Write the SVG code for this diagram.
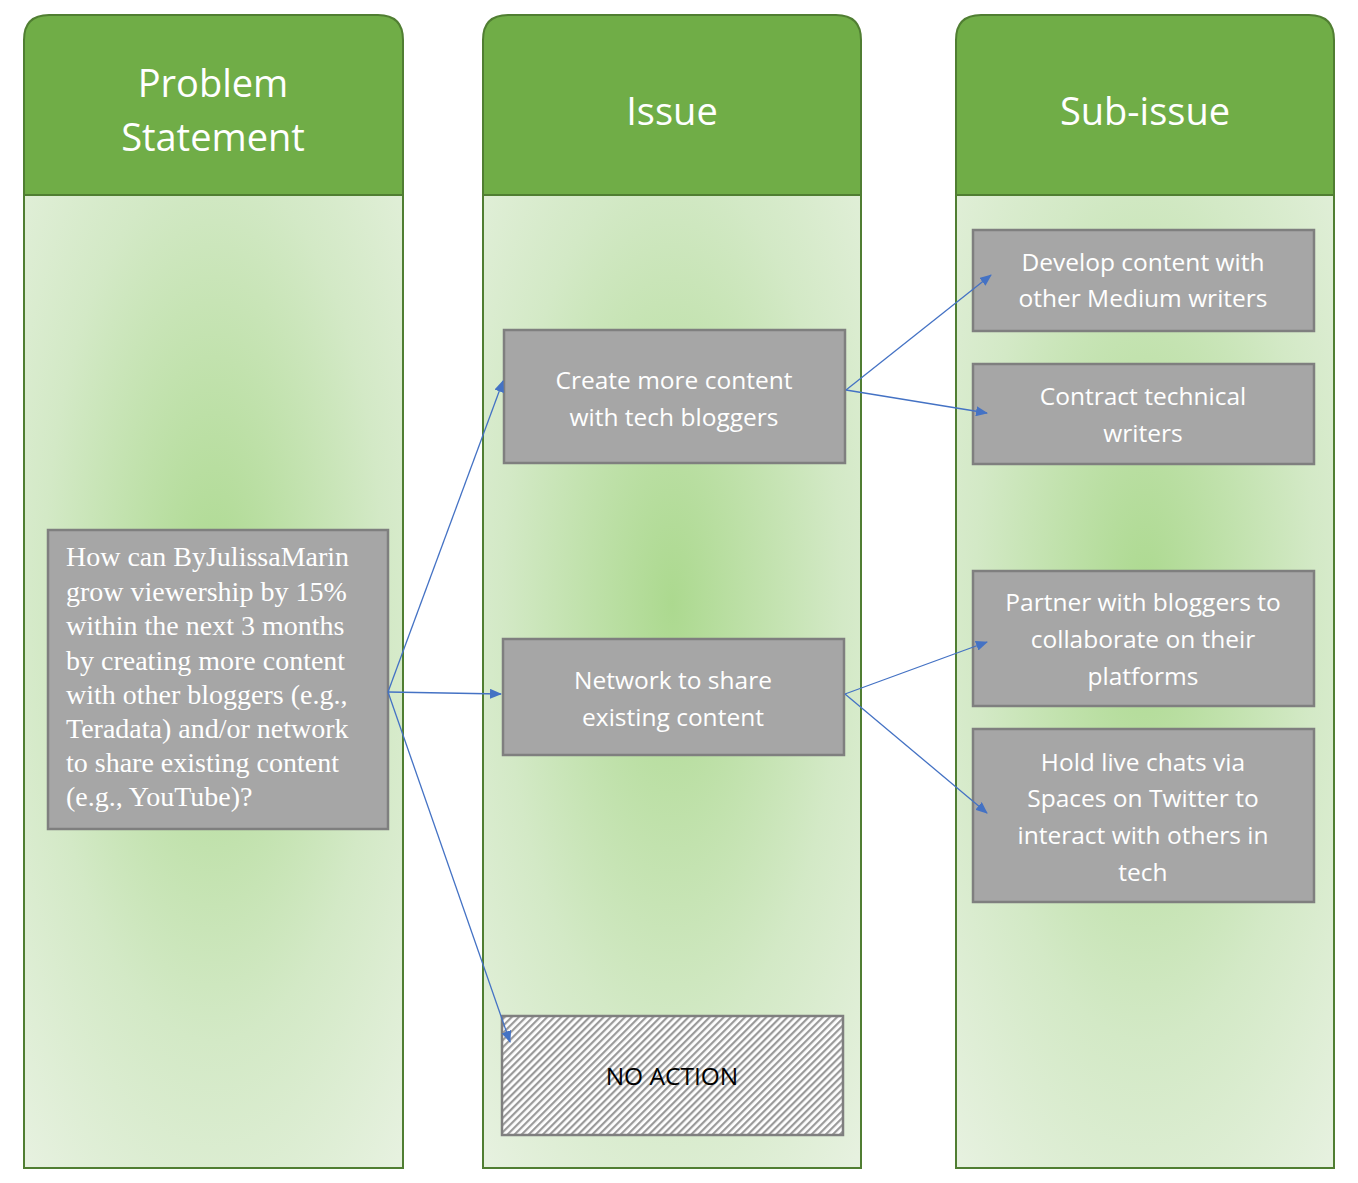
<svg xmlns="http://www.w3.org/2000/svg" width="1358" height="1183" viewBox="0 0 1358 1183">
<style>
.hd{fill:#70ad47;stroke:#507e32;stroke-width:2}
.bd{fill:url(#rg);stroke:#507e32;stroke-width:2}
.ht{font-family:'Open Sans','Noto Sans',sans-serif;font-size:38px;fill:#fff;text-anchor:middle}
.bx{fill:#a6a6a6;stroke:#7f7f7f;stroke-width:2.5}
.bt{font-family:'Open Sans','Noto Sans',sans-serif;font-size:24.5px;fill:#fff;text-anchor:middle}
.st{font-family:'Liberation Serif',serif;font-size:28px;fill:#fff}
.cn{stroke:#4472c4;stroke-width:1.3;fill:none;marker-end:url(#ar)}
</style>
<defs>
<radialGradient id="rg" cx="0.5" cy="0.42" r="0.75">
<stop offset="0" stop-color="#acd98f"/>
<stop offset="0.6" stop-color="#d3e9c6"/>
<stop offset="1" stop-color="#e6f1df"/>
</radialGradient>
<pattern id="hatch" width="5" height="5" patternUnits="userSpaceOnUse" patternTransform="rotate(45)">
<rect width="5" height="5" fill="#fff"/>
<rect width="2.2" height="5" fill="#9a9a9a"/>
</pattern>
<marker id="ar" markerWidth="12" markerHeight="10" refX="11" refY="5" orient="auto" markerUnits="userSpaceOnUse">
<path d="M0,0 L12,5 L0,10 Z" fill="#4472c4"/>
</marker>
</defs>
<rect width="1358" height="1183" fill="#fff"/>
<g id="col-problem">
<rect class="bd" x="24" y="195" width="379" height="973"/>
<path class="hd" d="M24,195 V40 Q24,15 49,15 H378 Q403,15 403,40 V195 Z"/>
<text class="ht" x="213" y="97">Problem</text>
<text class="ht" x="213" y="151">Statement</text>
</g>
<g id="col-issue">
<rect class="bd" x="483" y="195" width="378" height="973"/>
<path class="hd" d="M483,195 V40 Q483,15 508,15 H836 Q861,15 861,40 V195 Z"/>
<text class="ht" x="672" y="125">Issue</text>
</g>
<g id="col-sub">
<rect class="bd" x="956" y="195" width="378" height="973"/>
<path class="hd" d="M956,195 V40 Q956,15 981,15 H1309 Q1334,15 1334,40 V195 Z"/>
<text class="ht" x="1145" y="125">Sub-issue</text>
</g>
<g id="n-problem">
<rect class="bx" x="48" y="530" width="340" height="299"/>
<text class="st" x="66" y="566">How can ByJulissaMarin</text>
<text class="st" x="66" y="601">grow viewership by 15%</text>
<text class="st" x="66" y="635">within the next 3 months</text>
<text class="st" x="66" y="670">by creating more content</text>
<text class="st" x="66" y="704">with other bloggers (e.g.,</text>
<text class="st" x="66" y="738">Teradata) and/or network</text>
<text class="st" x="66" y="772">to share existing content</text>
<text class="st" x="66" y="806">(e.g., YouTube)?</text>
</g>
<g id="n-create">
<rect class="bx" x="504" y="330" width="341" height="133"/>
<text class="bt" x="674" y="389">Create more content</text>
<text class="bt" x="674" y="426">with tech bloggers</text>
</g>
<g id="n-network">
<rect class="bx" x="503" y="639" width="341" height="116"/>
<text class="bt" x="673" y="689">Network to share</text>
<text class="bt" x="673" y="726">existing content</text>
</g>
<g id="n-noaction">
<rect x="502" y="1016" width="341" height="119" fill="url(#hatch)" stroke="#7f7f7f" stroke-width="2.5"/>
<text x="672" y="1085" font-family="'Open Sans','Noto Sans',sans-serif" font-size="24.5" fill="#000" text-anchor="middle">NO ACTION</text>
</g>
<g id="n-develop">
<rect class="bx" x="973" y="230" width="341" height="101"/>
<text class="bt" x="1143" y="271">Develop content with</text>
<text class="bt" x="1143" y="307">other Medium writers</text>
</g>
<g id="n-contract">
<rect class="bx" x="973" y="364" width="341" height="100"/>
<text class="bt" x="1143" y="405">Contract technical</text>
<text class="bt" x="1143" y="442">writers</text>
</g>
<g id="n-partner">
<rect class="bx" x="973" y="571" width="341" height="135"/>
<text class="bt" x="1143" y="611">Partner with bloggers to</text>
<text class="bt" x="1143" y="648">collaborate on their</text>
<text class="bt" x="1143" y="685">platforms</text>
</g>
<g id="n-hold">
<rect class="bx" x="973" y="729" width="341" height="173"/>
<text class="bt" x="1143" y="771">Hold live chats via</text>
<text class="bt" x="1143" y="807">Spaces on Twitter to</text>
<text class="bt" x="1143" y="844">interact with others in</text>
<text class="bt" x="1143" y="881">tech</text>
</g>
<g id="connectors">
<line class="cn" x1="388" y1="692" x2="503" y2="381"/>
<line class="cn" x1="388" y1="692" x2="501" y2="694"/>
<line class="cn" x1="388" y1="692" x2="510" y2="1042"/>
<line class="cn" x1="846" y1="390" x2="991" y2="275"/>
<line class="cn" x1="846" y1="390" x2="987" y2="413"/>
<line class="cn" x1="845" y1="694" x2="987" y2="642"/>
<line class="cn" x1="845" y1="694" x2="987" y2="813"/>
</g>
</svg>
